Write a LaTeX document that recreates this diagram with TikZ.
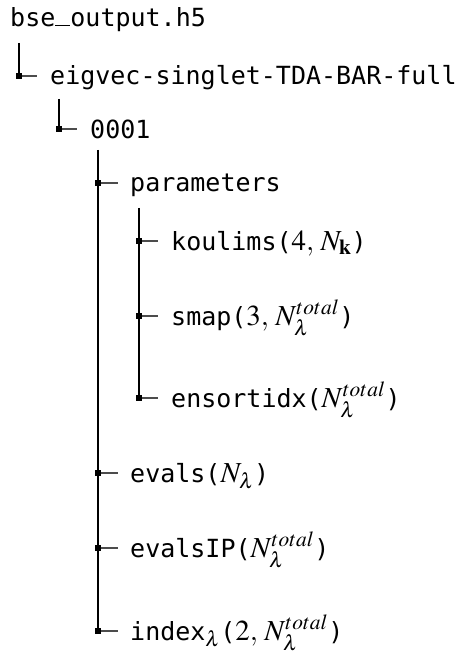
\documentclass[tikz,border=0pt]{standalone}
\usepackage{mathptmx}
\usepackage{fontspec}
\setmonofont{DejaVu Sans Mono}
\newcommand\mth[1]{{\fontsize{29}{30}\selectfont$#1$}}
\newcommand\usc{\makebox[0.602em][l]{\rule[0.02em]{0.602em}{0.065em}}}
\begin{document}
\begin{tikzpicture}[x=1pt,y=-1pt,
  lbl/.style={anchor=base west, inner sep=0pt, font=\ttfamily\fontsize{25}{30}\selectfont},
  mk/.style={fill=black, draw=none, inner sep=0pt, minimum size=6pt, rectangle},
  ln/.style={line width=1.4pt, black},
  tk/.style={line width=1.4pt, black!70}]
\useasboundingbox (0,0) rectangle (464,652);
% root
\node[lbl] (root) at (10,27) {bse\usc output.h5};
% level 1
\coordinate (v1) at (19,43);
\coordinate (m1) at (19,76);
\coordinate (t1) at (37,76);
\node[lbl] (n1) at (50,85) {eigvec-singlet-TDA-BAR-full};
\draw[ln] (v1) -- (m1);
\draw[tk] (m1) -- (t1);
\node[mk] at (m1) {};
% level 2
\coordinate (v2) at (59,99);
\coordinate (m2) at (59,129);
\coordinate (t2) at (77,129);
\node[lbl] (n2) at (90,139) {0001};
\draw[ln] (v2) -- (m2);
\draw[tk] (m2) -- (t2);
\node[mk] at (m2) {};
% level 3
\coordinate (v3) at (98,150);
\coordinate (m3a) at (98,183);
\coordinate (m3b) at (98,473);
\coordinate (m3c) at (98,548);
\coordinate (m3d) at (98,631);
\coordinate (t3a) at (118,183);
\coordinate (t3b) at (118,473);
\coordinate (t3c) at (118,548);
\coordinate (t3d) at (118,631);
\node[lbl] (n3a) at (130,192) {parameters};
\node[lbl] (n3b) at (130,482) {evals(\mth{N_\lambda})};
\node[lbl] (n3c) at (130,557) {evalsIP(\mth{N_\lambda^{total}})};
\node[lbl] (n3d) at (130,640) {index\mth{_\lambda}(\mth{2,\, N_\lambda^{total}})};
\draw[ln] (v3) -- (m3d);
\draw[tk] (m3a) -- (t3a);
\draw[tk] (m3b) -- (t3b);
\draw[tk] (m3c) -- (t3c);
\draw[tk] (m3d) -- (t3d);
\node[mk] at (m3a) {};
\node[mk] at (m3b) {};
\node[mk] at (m3c) {};
\node[mk] at (m3d) {};
% level 4
\coordinate (v4) at (139,208);
\coordinate (m4a) at (139,241);
\coordinate (m4b) at (139,316);
\coordinate (m4c) at (139,398);
\coordinate (t4a) at (158,241);
\coordinate (t4b) at (158,316);
\coordinate (t4c) at (158,398);
\node[lbl] (n4a) at (171,250) {koulims(\mth{4,\, N_{\mathbf{k}}})};
\node[lbl] (n4b) at (171,325) {smap(\mth{3,\, N_\lambda^{total}})};
\node[lbl] (n4c) at (171,407) {ensortidx(\mth{N_\lambda^{total}})};
\draw[ln] (v4) -- (m4c);
\draw[tk] (m4a) -- (t4a);
\draw[tk] (m4b) -- (t4b);
\draw[tk] (m4c) -- (t4c);
\node[mk] at (m4a) {};
\node[mk] at (m4b) {};
\node[mk] at (m4c) {};
\end{tikzpicture}
\end{document}
